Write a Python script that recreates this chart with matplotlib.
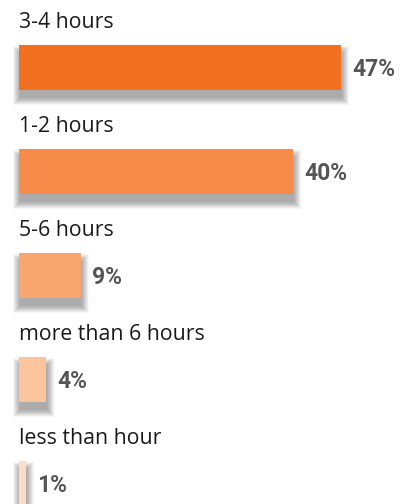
import numpy as np
from matplotlib import pyplot as plt
from matplotlib.patches import Rectangle

categories = ['3-4 hours', '1-2 hours', '5-6 hours', 'more than 6 hours', 'less than hour']
values = [47, 40, 9, 4, 1]
colors = ['#F37021', '#F68B4A', '#F9A66E', '#FCC49C', '#FDDCC6']

fig = plt.figure(figsize=(4.01, 5.04), dpi=100)
ax = fig.add_axes([0, 0, 1, 1])

px = 6.85          # pixels per percent
row = 104.0        # pixels per row
ax.set_xlim(-19 / px, (401 - 19) / px)
top = -67.5 / row
ax.set_ylim(top + 504 / row, top)
ax.axis('off')

bh = 45 / row
y = np.arange(len(values))

# soft blurred shadow, mostly below each bar
for i, v in enumerate(values):
    for k in range(18):
        grow = k * 0.42
        ax.add_patch(Rectangle((1 / px - grow / px, i - bh / 2 + 8 / row - grow / row),
                               v + 2 * grow / px, bh + 2 * grow / row,
                               facecolor='black', edgecolor='none', alpha=0.018, zorder=1))

ax.barh(y, values, height=bh, color=colors, zorder=3)

for i, (c, v) in enumerate(zip(categories, values)):
    ax.text(0, i - 45.5 / row, c, ha='left', va='center', fontsize=15.3,
            family='Open Sans', color='#1a1a1a')
    ax.annotate('{0}%'.format(v), (v, i), xytext=(8, -1.5), textcoords='offset points',
                ha='left', va='center', fontsize=16.5, fontweight='bold',
                family='Roboto', color='#555555')

plt.savefig('out.png', dpi=100)
